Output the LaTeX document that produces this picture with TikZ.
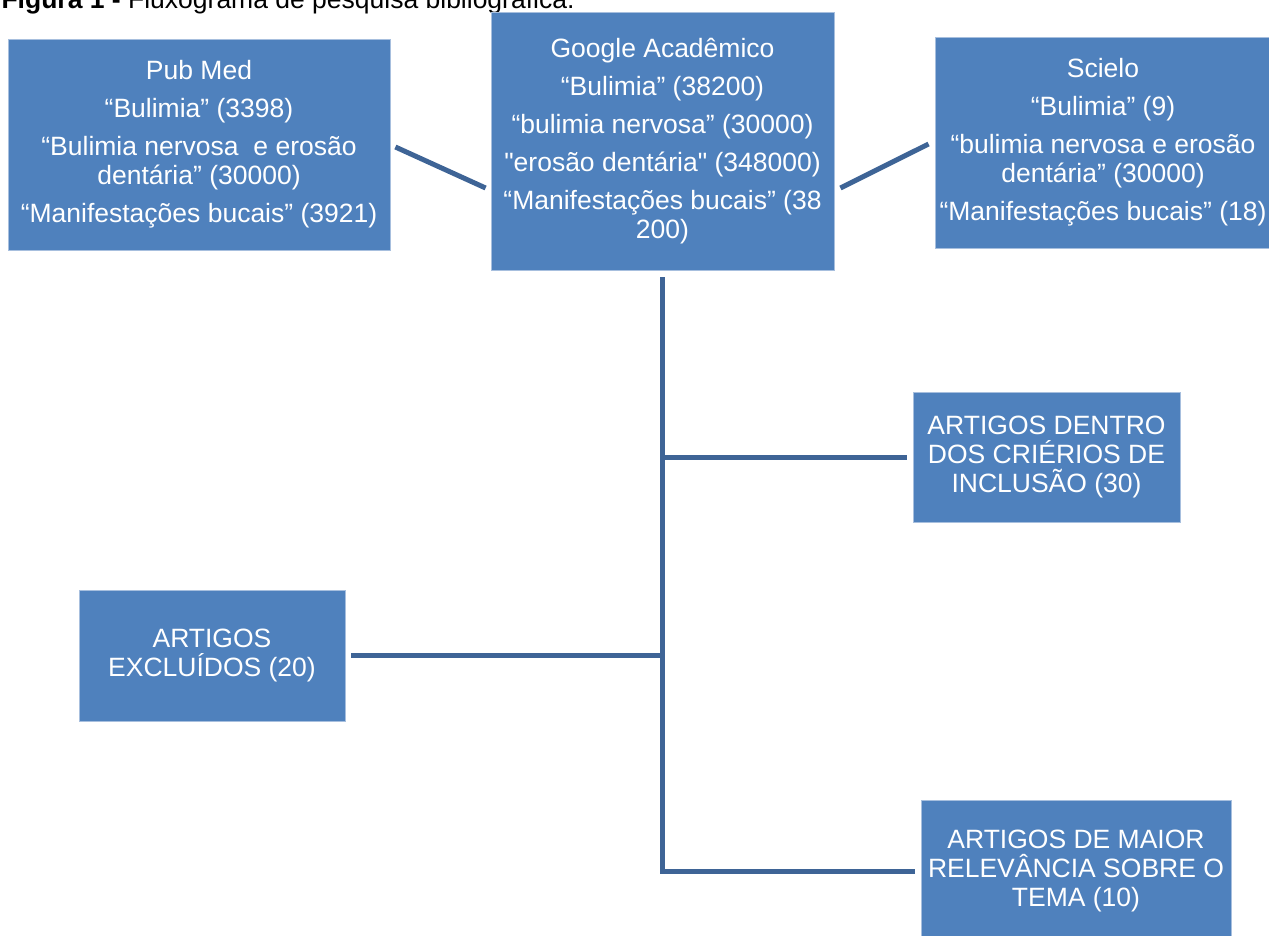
\documentclass[tikz,border=0pt]{standalone}
\usepackage{fontspec}
\setmainfont{Liberation Sans}[Ligatures=TeXOff]
\usetikzlibrary{positioning}
\definecolor{boxblue}{RGB}{79,129,189}
\definecolor{boxedge}{RGB}{167,191,222}
\definecolor{linkblue}{RGB}{62,100,150}
\tikzset{
  dbbox/.style={rectangle, draw=boxedge, line width=0.8pt, fill=boxblue, text=white,
    align=center, inner sep=0pt, font=\fontsize{26.5}{29}\selectfont},
  link/.style={draw=linkblue, line width=5pt}
}
\begin{document}
\begin{tikzpicture}[x=1pt, y=-1pt]
    \useasboundingbox (0,0) rectangle (1269,935);
    \node (caption) [anchor=base west, font=\fontsize{26.5}{30}\selectfont] at (-2,8) {\textbf{Figura 1 -} Fluxograma de pesquisa bibliográfica.};

    \node (pub) [dbbox, minimum width=382pt, minimum height=211pt] at (199,144.5) {Pub Med\\[9pt]“Bulimia” (3398)\\[9pt]“Bulimia nervosa\ \ e erosão\\dentária” (30000)\\[9pt]“Manifestações bucais” (3921)};
    \node (google) [dbbox, minimum width=343pt, minimum height=258pt] at (662.5,141) {Google Acadêmico\\[9pt]“Bulimia” (38200)\\[9pt]“bulimia nervosa” (30000)\\[9pt]"erosão dentária" (348000)\\[9pt]“Manifestações bucais” (38\\200)};
    \node (scielo) [dbbox, minimum width=336pt, minimum height=211pt] at (1103,142.5) {Scielo\\[9pt]“Bulimia” (9)\\[9pt]“bulimia nervosa e erosão\\dentária” (30000)\\[9pt]“Manifestações bucais” (18)};
    \node (dentro) [dbbox, minimum width=267pt, minimum height=130pt] at (1046.5,457) {ARTIGOS DENTRO\\DOS CRIÉRIOS DE\\INCLUSÃO (30)};
    \node (excl) [dbbox, minimum width=266pt, minimum height=131pt] at (212,655.5) {ARTIGOS\\EXCLUÍDOS (20)};
    \node (maior) [dbbox, minimum width=310pt, minimum height=142pt] at (1076,871) {ARTIGOS DE MAIOR\\RELEVÂNCIA SOBRE O\\TEMA (10)};

    \draw[link] ([xshift=5pt, yshift=-2.5pt]pub.east) -- ([xshift=-5pt, yshift=-47pt]google.west);
    \draw[link] ([xshift=6pt, yshift=-47pt]google.east) -- ([xshift=-6pt, yshift=-1.5pt]scielo.west);
    \draw[link] ([yshift=-7pt]google.south) |- ([xshift=-6pt]maior.west);
    \draw[link] (google.south |- dentro.west) -- ([xshift=-6pt]dentro.west);
    \draw[link] ([xshift=6pt]excl.east) -- (excl.east -| google.south);
\end{tikzpicture}
\end{document}
